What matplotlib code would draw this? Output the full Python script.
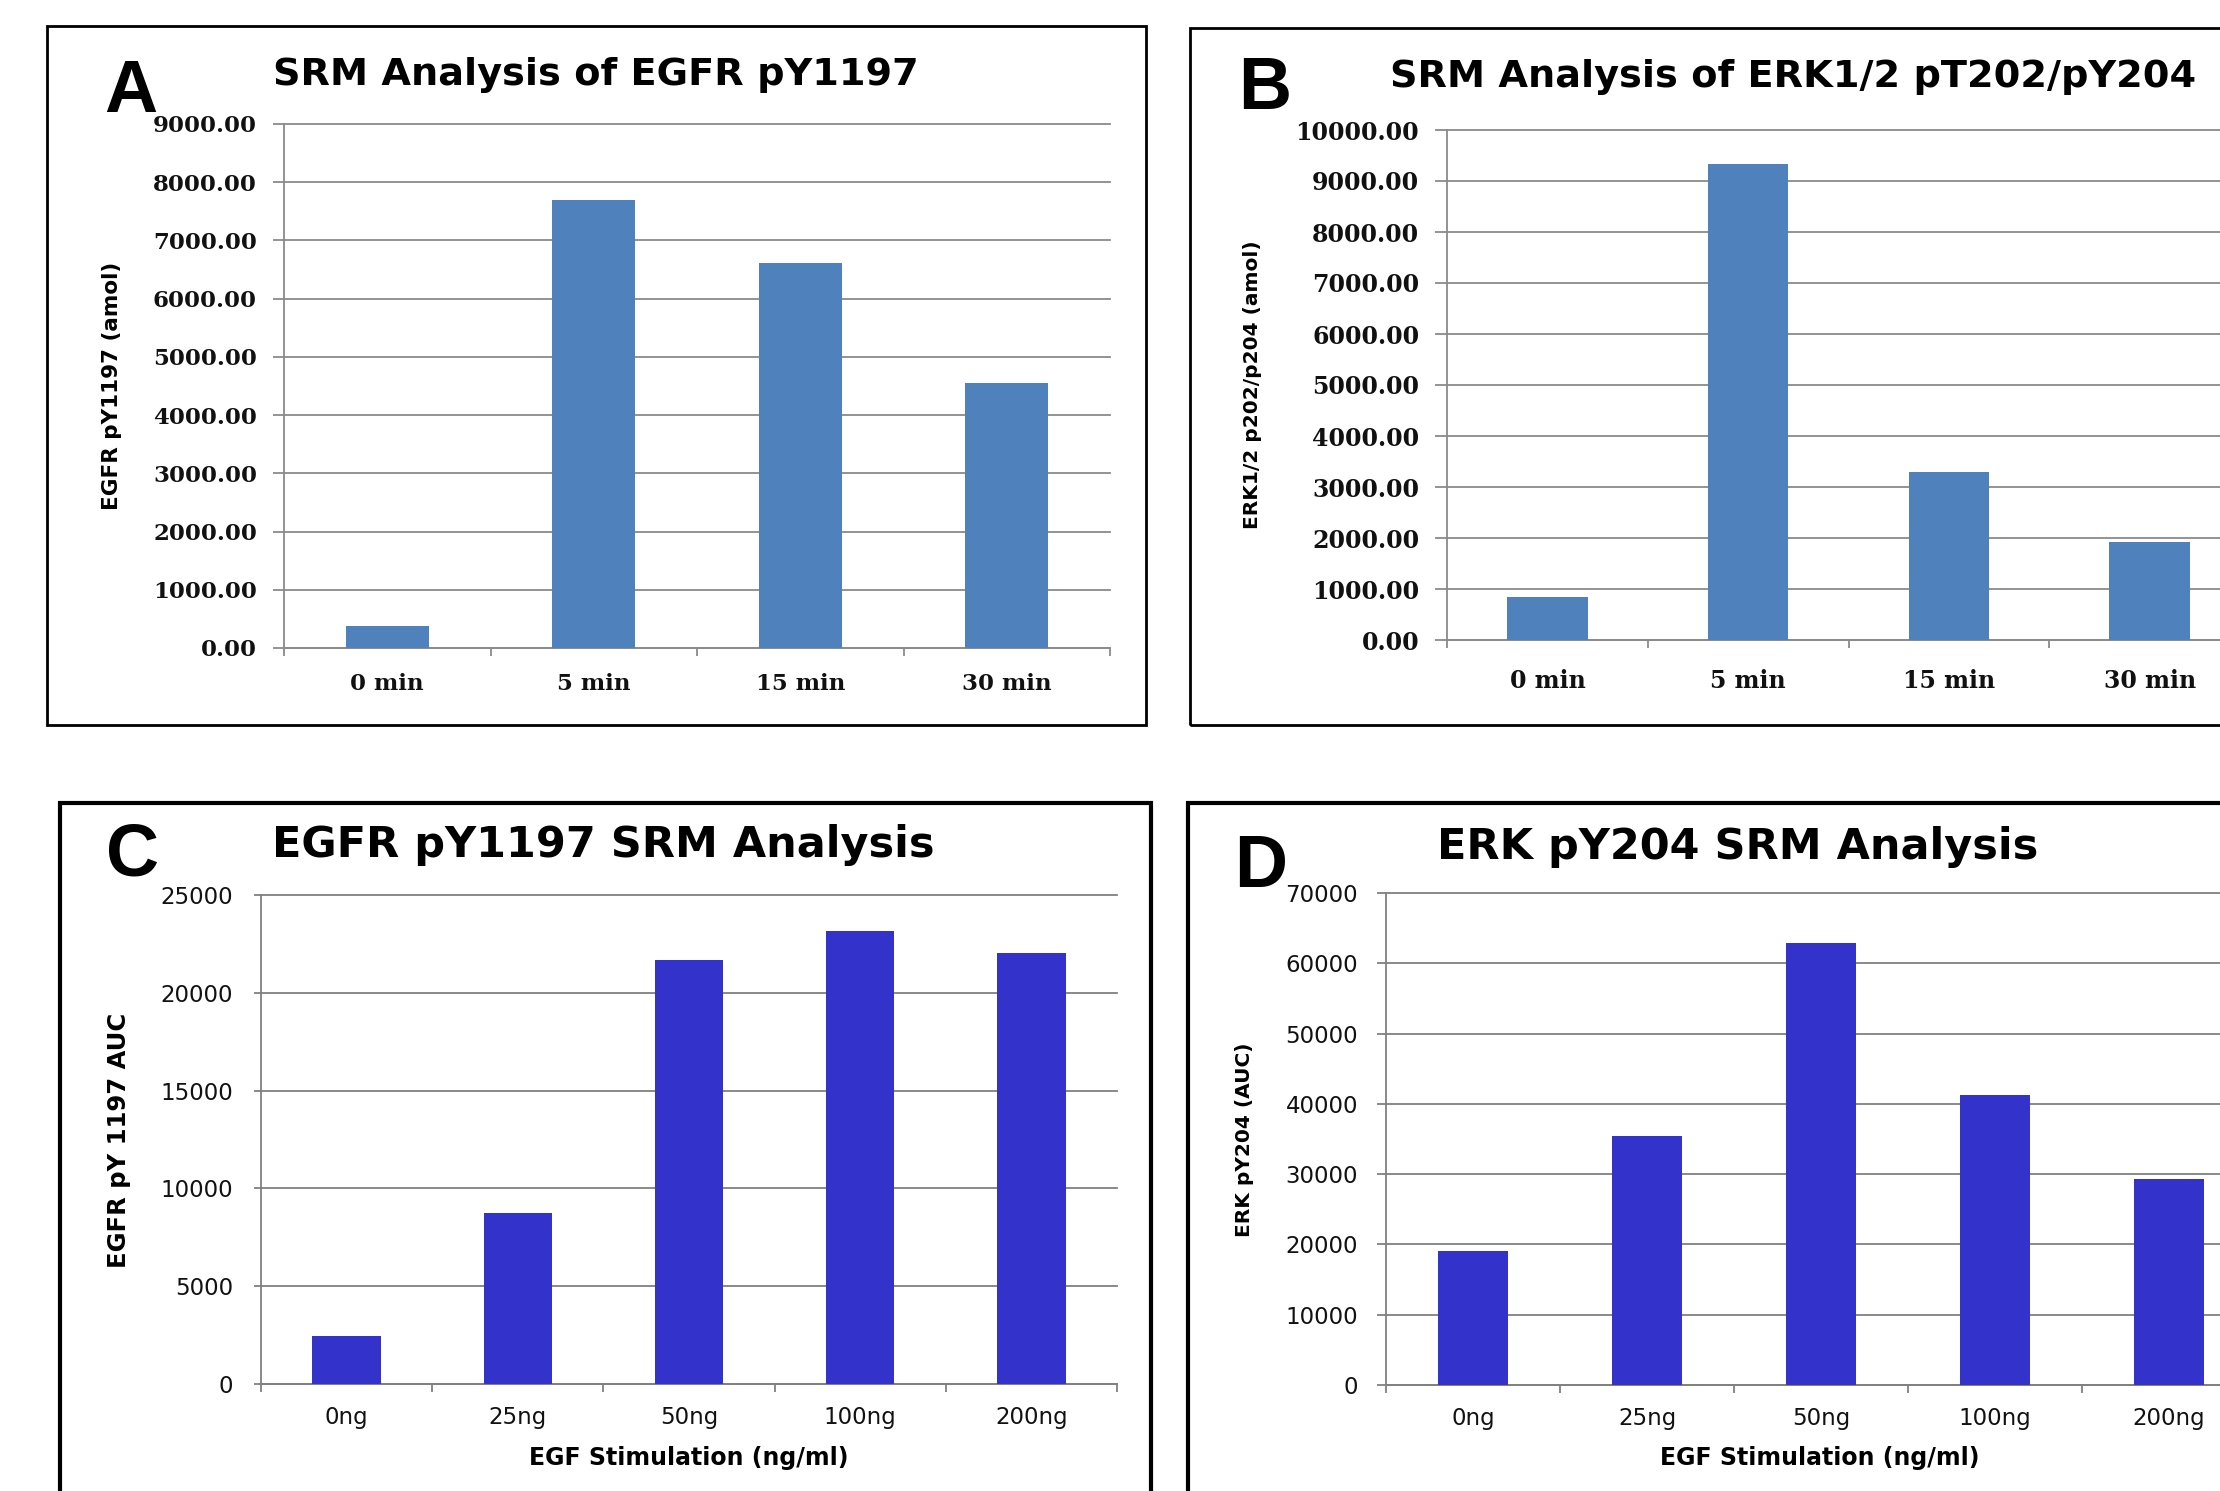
import matplotlib.pyplot as plt
import numpy as np
from matplotlib.patches import Rectangle
from matplotlib.ticker import FixedLocator, FormatStrFormatter

W, H = 2220, 1491

time_labels = ["0 min", "5 min", "15 min", "30 min"]
egfr_time = [375, 7690, 6610, 4550]
erk_time = [850, 9330, 3290, 1930]

dose_labels = ["0ng", "25ng", "50ng", "100ng", "200ng"]
egfr_dose = [2450, 8750, 21680, 23170, 22050]
erk_dose = [19000, 35380, 62950, 41230, 29350]


def px_box(x0, y0, x1, y1):
    return [x0 / W, 1 - y1 / H, (x1 - x0) / W, (y1 - y0) / H]


def px_text(fig, x, y, s, **kw):
    fig.text(x / W, 1 - y / H, s, **kw)


def bar_panel(fig, box, labels, values, ymax, ystep, color, grid_color,
              tick_font, tick_size, tick_weight, fmt, ylen, ypad, xpad):
    ax = fig.add_axes(px_box(*box))
    x = np.arange(len(labels))
    ax.bar(x, values, width=0.4, color=color, zorder=3)
    ax.set_xlim(-0.5, len(labels) - 0.5)
    ax.set_ylim(0, ymax)
    ax.set_yticks(np.arange(0, ymax + ystep / 2, ystep))
    ax.yaxis.set_major_formatter(FormatStrFormatter(fmt))
    ax.set_xticks(x)
    ax.set_xticklabels(labels)
    ax.xaxis.set_minor_locator(FixedLocator(np.arange(len(labels) + 1) - 0.5))
    ax.grid(axis="y", color=grid_color, linewidth=1.3, zorder=0)
    for line in ax.get_ygridlines():
        line.set_clip_on(False)
    for side in ["top", "right"]:
        ax.spines[side].set_visible(False)
    for side in ["left", "bottom"]:
        ax.spines[side].set_color(grid_color)
        ax.spines[side].set_linewidth(1.3)
    ax.tick_params(axis="y", length=ylen, width=1.3, color=grid_color, pad=ypad)
    ax.tick_params(axis="x", which="major", length=0, pad=xpad)
    ax.tick_params(axis="x", which="minor", length=6, width=1.3, color=grid_color)
    for lab in ax.get_xticklabels() + ax.get_yticklabels():
        lab.set_family(tick_font)
        lab.set_fontsize(tick_size)
        lab.set_fontweight(tick_weight)
        lab.set_color("#111111")
    return ax


fig = plt.figure(figsize=(W / 100, H / 100), dpi=100)

# panel borders
for (x0, y0, x1, y1), lw in [((47, 26, 1146, 725), 2.0), ((1190, 28, 2260, 725), 2.0),
                             ((60, 803, 1151, 1520), 3.0), ((1188, 803, 2260, 1520), 3.0)]:
    fig.patches.append(Rectangle((x0 / W, 1 - y1 / H), (x1 - x0) / W, (y1 - y0) / H,
                                 transform=fig.transFigure, fill=False,
                                 edgecolor="black", linewidth=lw))

old_blue = "#4F81BD"
new_blue = "#3333CC"

# A
bar_panel(fig, (284, 124, 1110, 648), time_labels, egfr_time, 9000, 1000, old_blue,
          "#8a8a8a", "DejaVu Serif", 16.5, "bold", "%.2f", 8, 11.5, 18)
px_text(fig, 596, 85, "SRM Analysis of EGFR pY1197", ha="center", va="baseline",
        family="DejaVu Sans", fontsize=27.5, fontweight="bold")
px_text(fig, 112, 386, "EGFR pY1197 (amol)", ha="center", va="center", rotation=90,
        family="DejaVu Sans", fontsize=15.5, fontweight="bold")
px_text(fig, 104, 112, "A", ha="left", va="baseline",
        family="Liberation Sans", fontsize=53, fontweight="bold")

# B
bar_panel(fig, (1447, 130, 2250, 640), time_labels, erk_time, 10000, 1000, old_blue,
          "#8a8a8a", "DejaVu Serif", 17, "bold", "%.2f", 8.5, 11.5, 21)
px_text(fig, 1793, 87, "SRM Analysis of ERK1/2 pT202/pY204", ha="center", va="baseline",
        family="DejaVu Sans", fontsize=27.5, fontweight="bold")
px_text(fig, 1252, 385, "ERK1/2 p202/p204 (amol)", ha="center", va="center", rotation=90,
        family="DejaVu Sans", fontsize=14.5, fontweight="bold")
px_text(fig, 1238, 109, "B", ha="left", va="baseline",
        family="Liberation Sans", fontsize=53, fontweight="bold")

# C
bar_panel(fig, (261, 895, 1117, 1384), dose_labels, egfr_dose, 25000, 5000, new_blue,
          "#808080", "DejaVu Sans", 16.5, "normal", "%d", 5, 15, 16)
px_text(fig, 603, 857, "EGFR pY1197 SRM Analysis", ha="center", va="baseline",
        family="DejaVu Sans", fontsize=31, fontweight="bold")
px_text(fig, 119, 1140, "EGFR pY 1197 AUC", ha="center", va="center", rotation=90,
        family="DejaVu Sans", fontsize=17.5, fontweight="bold")
px_text(fig, 689, 1458, "EGF Stimulation (ng/ml)", ha="center", va="center",
        family="DejaVu Sans", fontsize=17, fontweight="bold")
px_text(fig, 106, 876, "C", ha="left", va="baseline",
        family="Liberation Sans", fontsize=53, fontweight="bold")

# D
bar_panel(fig, (1386, 893, 2256, 1385), dose_labels, erk_dose, 70000, 10000, new_blue,
          "#808080", "DejaVu Sans", 16.5, "normal", "%d", 6.5, 13.5, 16)
px_text(fig, 1738, 859, "ERK pY204 SRM Analysis", ha="center", va="baseline",
        family="DejaVu Sans", fontsize=31, fontweight="bold")
px_text(fig, 1245, 1140, "ERK pY204 (AUC)", ha="center", va="center", rotation=90,
        family="DejaVu Sans", fontsize=14.5, fontweight="bold")
px_text(fig, 1820, 1458, "EGF Stimulation (ng/ml)", ha="center", va="center",
        family="DejaVu Sans", fontsize=17, fontweight="bold")
px_text(fig, 1234, 887, "D", ha="left", va="baseline",
        family="Liberation Sans", fontsize=53, fontweight="bold")

fig.savefig("out.png", dpi=100)
